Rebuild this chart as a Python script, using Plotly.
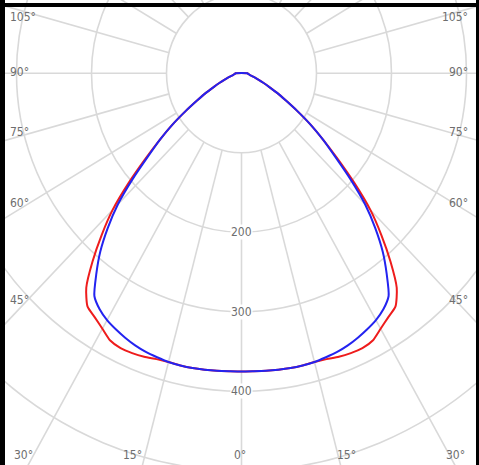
import numpy as np
import plotly.graph_objects as go

# photometric data, angle from nadir (deg) -> luminous intensity (cd)
ANGLES = [0, 2.5, 5, 7.5, 10, 12.5, 15, 17.5, 20, 22.5, 25, 27.5, 30, 32.5,
          35, 37.5, 40, 42.5, 45, 47.5, 50, 52.5, 55, 57.5, 60, 62.5, 65,
          67.5, 70, 72.5, 75, 77.5, 80, 82.5, 85, 87.5, 90]
PLANE_RED = [375, 375, 375.5, 376, 376.5, 376.5, 376, 377, 379.5, 381, 381.5,
             379, 371, 364, 358, 340, 309, 276, 243, 204, 167, 137, 112, 88,
             68, 54, 41, 32, 25, 20, 16, 13, 11, 10, 9, 8.5, 8]
PLANE_BLUE = [375, 375, 375.5, 376, 376.5, 376.5, 376, 374.5, 373, 370.5, 367,
              363, 358.5, 352, 342, 318, 293, 264, 233, 197, 163, 137, 112, 88,
              68, 54, 41, 32, 25, 20, 16, 13, 11, 10, 9, 8.5, 8]

RINGS = [100, 200, 300, 400, 500, 600, 700]
RING_LABELS = [200, 300, 400]
SPOKES = list(range(0, 360, 15))

# angle labels around the frame: (text, x px, y px, anchor)
SIDE_LABELS = [
    ("105°", 8, 17.5, "left"), ("90°", 8, 72.5, "left"), ("75°", 8, 132.5, "left"),
    ("60°", 8, 203, "left"), ("45°", 8, 300, "left"),
    ("105°", 470, 17.5, "right"), ("90°", 470, 72.5, "right"), ("75°", 470, 132.5, "right"),
    ("60°", 470, 203, "right"), ("45°", 470, 300, "right"),
    ("30°", 12, 455, "left"), ("15°", 132.5, 455, "center"), ("0°", 240, 455, "center"),
    ("15°", 346.5, 455, "center"), ("30°", 467, 455, "right"),
]

W, H = 479, 465
CX, CY = 241.5, 73.3      # pole position in px
SX, SY = 0.75, 0.795      # px per cd
GRID = "#d9d9d9"
TXT = "#6e6e6e"
FONT = "DejaVu Sans Condensed, Liberation Sans Narrow, sans-serif"


def to_xy(theta_deg, cd):
    t = np.radians(np.asarray(theta_deg, dtype=float))
    r = np.asarray(cd, dtype=float)
    return r * np.sin(t), -r * np.cos(t)


def closed_curve(values):
    ang = [-a for a in ANGLES[::-1]] + ANGLES[1:]
    val = values[::-1] + values[1:]
    x, y = to_xy(ang, val)
    return np.append(x, x[0]), np.append(y, y[0])


fig = go.Figure()

# spokes from the inner ring outward
sx, sy = [], []
for a in SPOKES:
    x, y = to_xy([a, a], [RINGS[0], 900])
    sx += list(x) + [None]
    sy += list(y) + [None]
fig.add_trace(go.Scatter(x=sx, y=sy, mode="lines", line=dict(color=GRID, width=1.6),
                         hoverinfo="skip", showlegend=False))

for name, vals, col in [("C0-C180", PLANE_RED, "#ee1c1c"), ("C90-C270", PLANE_BLUE, "#2323f0")]:
    x, y = closed_curve(vals)
    fig.add_trace(go.Scatter(x=x, y=y, mode="lines", name=name,
                             line=dict(color=col, width=2, shape="spline", smoothing=0.6),
                             showlegend=False))

shapes = []
for r in RINGS:
    shapes.append(dict(type="circle", xref="x", yref="y", x0=-r, x1=r, y0=-r, y1=r,
                       line=dict(color=GRID, width=1.6), layer="below"))
# black frame
shapes += [
    dict(type="rect", xref="paper", yref="paper", x0=0, x1=5 / W, y0=0, y1=1,
         fillcolor="black", line_width=0),
    dict(type="rect", xref="paper", yref="paper", x0=0, x1=1, y0=1 - 7 / H, y1=1 - 3 / H,
         fillcolor="black", line_width=0),
    dict(type="rect", xref="paper", yref="paper", x0=476 / W, x1=1, y0=0, y1=1,
         fillcolor="black", line_width=0),
]

annotations = []
for v in RING_LABELS:
    annotations.append(dict(x=0, y=-v, xref="x", yref="y", text=str(v), showarrow=False,
                            bgcolor="white", borderpad=0, font=dict(size=12, color=TXT, family=FONT)))
for text, px, py, anchor in SIDE_LABELS:
    annotations.append(dict(x=px / W, y=1 - py / H, xref="paper", yref="paper", text=text,
                            showarrow=False, xanchor=anchor, yanchor="middle",
                            font=dict(size=12, color=TXT, family=FONT)))

fig.update_layout(
    width=W, height=H,
    margin=dict(l=0, r=0, t=0, b=0),
    paper_bgcolor="white", plot_bgcolor="white",
    xaxis=dict(range=[-CX / SX, (W - CX) / SX], visible=False, fixedrange=True),
    yaxis=dict(range=[-(H - CY) / SY, CY / SY], visible=False, fixedrange=True),
    shapes=shapes, annotations=annotations,
)

# the page's default body margin would push the chart off its frame
fig.write_html("out.html", config={"displayModeBar": False},
               post_script="document.body.style.margin='0';")
